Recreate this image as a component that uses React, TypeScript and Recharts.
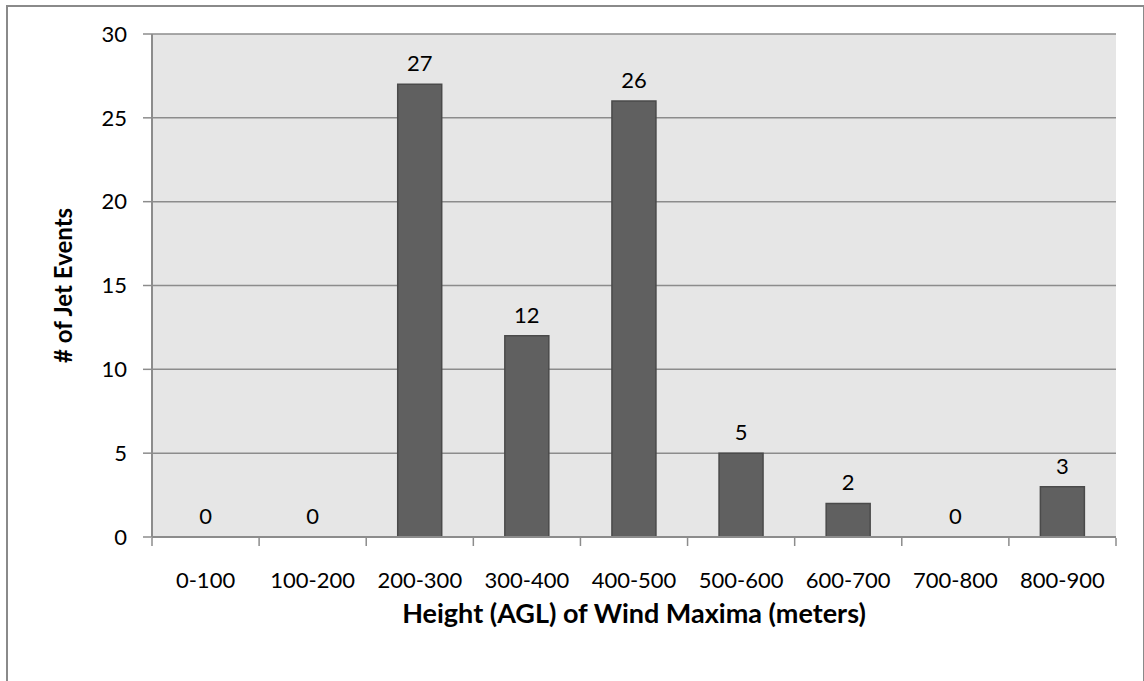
import { ComposedChart, Bar, Line, XAxis, YAxis, CartesianGrid, LabelList, Label } from "recharts";

const categories = ["0-100", "100-200", "200-300", "300-400", "400-500", "500-600", "600-700", "700-800", "800-900"];
const jetEvents = [0, 0, 27, 12, 26, 5, 2, 0, 3];
const yTicks = [0, 5, 10, 15, 20, 25, 30];
// category boundaries for the tick marks between bars
const edgeTicks = [0, 1, 2, 3, 4, 5, 6, 7, 8, 9];

const data = categories.map((name, i) => ({ name, idx: i + 0.5, value: jetEvents[i] }));

const FONT = "Lato, 'Open Sans', sans-serif";
const AXIS_GRAY = "#8c8c8c";

const YTitle = ({ viewBox }: any) => {
  const cx = 62;
  const cy = viewBox.y + viewBox.height / 2;
  return (
    <text
      x={cx}
      y={cy}
      transform={`rotate(-90 ${cx} ${cy})`}
      textAnchor="middle"
      dominantBaseline="central"
      fontFamily={FONT}
      fontWeight={700}
      fontSize={24}
      fill="#000"
    >
      # of Jet Events
    </text>
  );
};

const XTitle = ({ viewBox }: any) => (
  <text
    x={viewBox.x + viewBox.width / 2}
    y={612}
    textAnchor="middle"
    dominantBaseline="central"
    fontFamily={FONT}
    fontWeight={700}
    fontSize={27}
    fill="#000"
  >
    Height (AGL) of Wind Maxima (meters)
  </text>
);

export default function App() {
  return (
    <div style={{ position: "absolute", left: 0, top: 0, width: 1144, height: 681, overflow: "hidden", background: "#fff" }}>
      <div
        style={{
          position: "absolute",
          left: 6,
          top: 5,
          width: 1135,
          height: 700,
          border: "2px solid #8a8a8a",
        }}
      />
      <ComposedChart
        width={1144}
        height={681}
        data={data}
        margin={{ top: 34, right: 28, bottom: 142, left: 52 }}
        barCategoryGap="29.4%"
        style={{ position: "absolute", left: 0, top: 0, fontFamily: FONT }}
      >
        <CartesianGrid vertical={false} fill="#e6e6e6" stroke={AXIS_GRAY} strokeWidth={1.5} />
        <XAxis
          xAxisId="cat"
          dataKey="name"
          height={1}
          axisLine={{ stroke: AXIS_GRAY, strokeWidth: 2 }}
          tickLine={false}
          tickMargin={29}
          interval={0}
          tick={{ fill: "#000", fontSize: 22, fontFamily: FONT }}
        >
          <Label content={<XTitle />} />
        </XAxis>
        <XAxis
          xAxisId="edge"
          type="number"
          dataKey="idx"
          domain={[0, 9]}
          ticks={edgeTicks}
          height={1}
          axisLine={false}
          tickLine={{ stroke: AXIS_GRAY, strokeWidth: 1.5 }}
          tickSize={8}
          tickFormatter={() => ""}
        />
        <YAxis
          width={100}
          domain={[0, 30]}
          ticks={yTicks}
          interval={0}
          axisLine={{ stroke: AXIS_GRAY, strokeWidth: 2 }}
          tickLine={{ stroke: AXIS_GRAY, strokeWidth: 1.5 }}
          tickSize={9}
          tickMargin={16}
          tick={{ fill: "#000", fontSize: 22, fontFamily: FONT }}
        >
          <Label content={<YTitle />} />
        </YAxis>
        <Bar
          xAxisId="cat"
          dataKey="value"
          fill="#606060"
          stroke="#4a4a4a"
          strokeWidth={1.5}
          isAnimationActive={false}
        />
        {/* invisible series that carries the value labels, including the zero bars */}
        <Line
          xAxisId="cat"
          dataKey="value"
          stroke="none"
          dot={false}
          activeDot={false}
          isAnimationActive={false}
        >
          <LabelList dataKey="value" position="top" offset={13} fill="#000" fontSize={22} fontFamily={FONT} />
        </Line>
      </ComposedChart>
    </div>
  );
}
